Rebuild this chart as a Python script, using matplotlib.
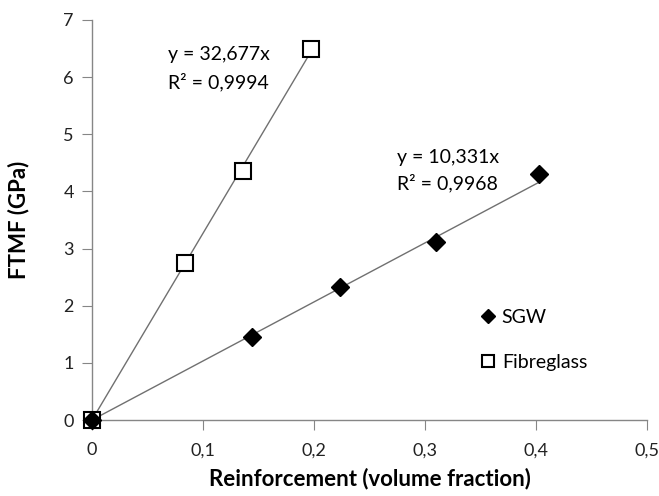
import matplotlib
matplotlib.use("Agg")
import matplotlib.pyplot as plt
from matplotlib.ticker import FuncFormatter

plt.rcParams['font.family'] = ['Lato', 'DejaVu Sans']

# data
sgw_x = [0.0, 0.144, 0.2235, 0.31, 0.403]
sgw_y = [0.0, 1.45, 2.32, 3.12, 4.30]
fg_x = [0.0, 0.0838, 0.136, 0.197]
fg_y = [0.0, 2.75, 4.35, 6.50]
sgw_slope, sgw_r2 = 10.331, 0.9968
fg_slope, fg_r2 = 32.677, 0.9994

x_ticks = [0, 0.1, 0.2, 0.3, 0.4, 0.5]
y_ticks = [0, 1, 2, 3, 4, 5, 6, 7]

grey = '#868686'

fig = plt.figure(figsize=(6.59, 4.96), dpi=100)
ax = fig.add_axes([0.1396, 0.1532, 0.8422, 0.8065])

# trendlines through origin
for xs, k in ((fg_x, fg_slope), (sgw_x, sgw_slope)):
    xe = max(xs)
    ax.plot([0, xe], [0, k * xe], color='#707070', lw=1.0, zorder=2)

ax.plot(fg_x, fg_y, 's', markerfacecolor='white', markeredgecolor='black',
        markeredgewidth=1.5, markersize=12, label='Fibreglass', zorder=3)
ax.plot(sgw_x, sgw_y, 'D', color='black', markersize=9, label='SGW', zorder=4)

ax.text(0.0685, 6.39, f"y = {fg_slope:.3f}x".replace('.', ','), fontsize=14, va='center')
ax.text(0.0685, 5.92, f"R² = {fg_r2:.4f}".replace('.', ','), fontsize=14, va='center')
ax.text(0.275, 4.60, f"y = {sgw_slope:.3f}x".replace('.', ','), fontsize=14, va='center')
ax.text(0.275, 4.15, f"R² = {sgw_r2:.4f}".replace('.', ','), fontsize=14, va='center')

ax.set_xlim(0, 0.5)
ax.set_ylim(0, 7)
ax.set_xticks(x_ticks)
ax.set_yticks(y_ticks)
fmt = FuncFormatter(lambda v, p: ('%g' % v).replace('.', ','))
ax.xaxis.set_major_formatter(fmt)
ax.yaxis.set_major_formatter(fmt)

for s in ('top', 'right'):
    ax.spines[s].set_visible(False)
for s in ('left', 'bottom'):
    ax.spines[s].set_color(grey)
    ax.spines[s].set_linewidth(1.0)
ax.tick_params(direction='out', length=7, color=grey, labelsize=13, labelcolor='#222222', pad=6)
ax.tick_params(axis='x', pad=9)

ax.set_xlabel('Reinforcement (volume fraction)', fontsize=16, fontweight='bold')
ax.set_ylabel('FTMF (GPa)', fontsize=16, fontweight='bold')
ax.xaxis.set_label_coords(0.5, -0.118)
ax.yaxis.set_label_coords(-0.112, 0.5)

# legend handles in SGW, Fibreglass order
h, l = ax.get_legend_handles_labels()
ax.legend(h[::-1], l[::-1], loc='center left', bbox_to_anchor=(0.67, 0.2),
          frameon=False, fontsize=14, markerscale=0.75, handlelength=0.7,
          handletextpad=0.35, labelspacing=1.45)

for line in ax.get_lines():
    line.set_clip_on(False)

fig.savefig('out.png', dpi=100)
